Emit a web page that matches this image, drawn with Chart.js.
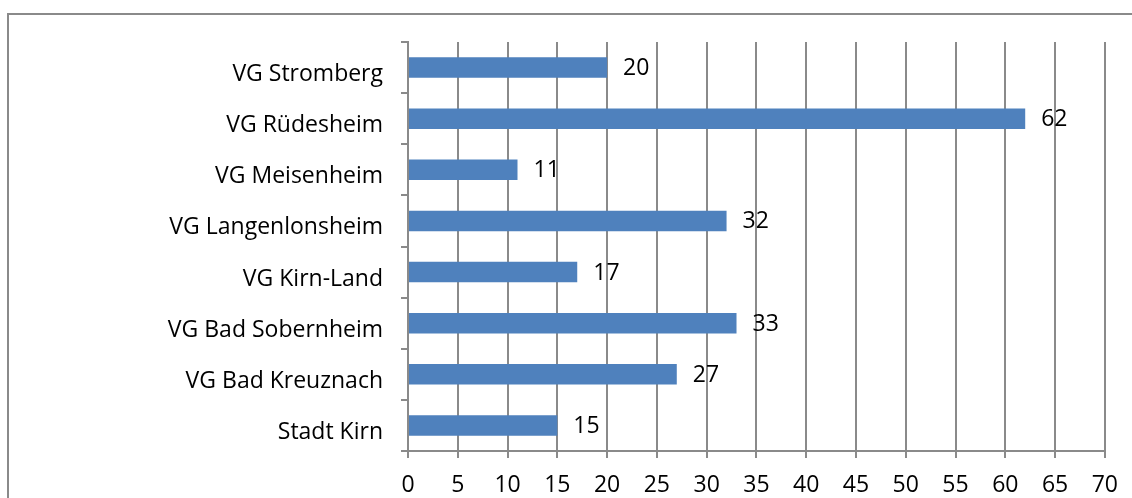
<!DOCTYPE html>
<html>
<head>
<meta charset="utf-8">
<script src="https://cdn.jsdelivr.net/npm/chart.js@4"></script>
<style>
  html, body { margin: 0; padding: 0; background: #fff; }
  #rahmen { position: absolute; left: 7px; top: 13px; width: 1200px; height: 600px;
            border-left: 2px solid #8a8a8a; border-top: 2px solid #8a8a8a; box-sizing: border-box; }
  #wrap { position: absolute; left: 0; top: 0; width: 1132px; height: 498px; }
</style>
</head>
<body>
<div id="rahmen"></div>
<div id="wrap"><canvas id="grafico"></canvas></div>
<script>
const gemeinden = ['VG Stromberg', 'VG Rüdesheim', 'VG Meisenheim', 'VG Langenlonsheim',
                   'VG Kirn-Land', 'VG Bad Sobernheim', 'VG Bad Kreuznach', 'Stadt Kirn'];
const anzahl = [20, 62, 11, 32, 17, 33, 27, 15];
const xMax = 70;
const xSchritt = 5;

const schrift = { family: '"Open Sans"', size: 23 };

// Werte rechts neben den Balken
const wertLabels = {
    id: 'wertLabels',
    afterDatasetsDraw(chart) {
        const ctx = chart.ctx;
        ctx.save();
        ctx.font = '23px "Open Sans"';
        ctx.fillStyle = '#000';
        ctx.textAlign = 'left';
        ctx.textBaseline = 'middle';
        chart.getDatasetMeta(0).data.forEach((bar, i) => {
            ctx.fillText(String(anzahl[i]), bar.x + 16, bar.y + 1);
        });
        ctx.restore();
    }
};

const ctx = document.getElementById('grafico').getContext('2d');
new Chart(ctx, {
    type: 'bar',
    data: {
        labels: gemeinden,
        datasets: [{
            data: anzahl,
            backgroundColor: '#4f81bd',
            barPercentage: 0.4,
            categoryPercentage: 1.0
        }]
    },
    options: {
        indexAxis: 'y',
        responsive: true,
        maintainAspectRatio: false,
        animation: false,
        layout: { padding: { top: 42, right: 27, left: 0, bottom: 0 } },
        plugins: { legend: { display: false }, tooltip: { enabled: false } },
        scales: {
            x: {
                min: 0, max: xMax,
                ticks: { stepSize: xSchritt, padding: 14, color: '#000', font: schrift },
                grid: { color: '#8a8a8a', lineWidth: 2, tickLength: 7 },
                border: { color: '#8a8a8a', width: 2 },
                afterFit(scale) { scale.height = 47; }
            },
            y: {
                ticks: { padding: 18, labelOffset: 7, color: '#000', font: schrift },
                grid: { drawOnChartArea: false, color: '#8a8a8a', lineWidth: 2, tickLength: 7 },
                border: { color: '#8a8a8a', width: 2 },
                afterFit(scale) { scale.width = 408; }
            }
        }
    },
    plugins: [wertLabels]
});
</script>
</body>
</html>
